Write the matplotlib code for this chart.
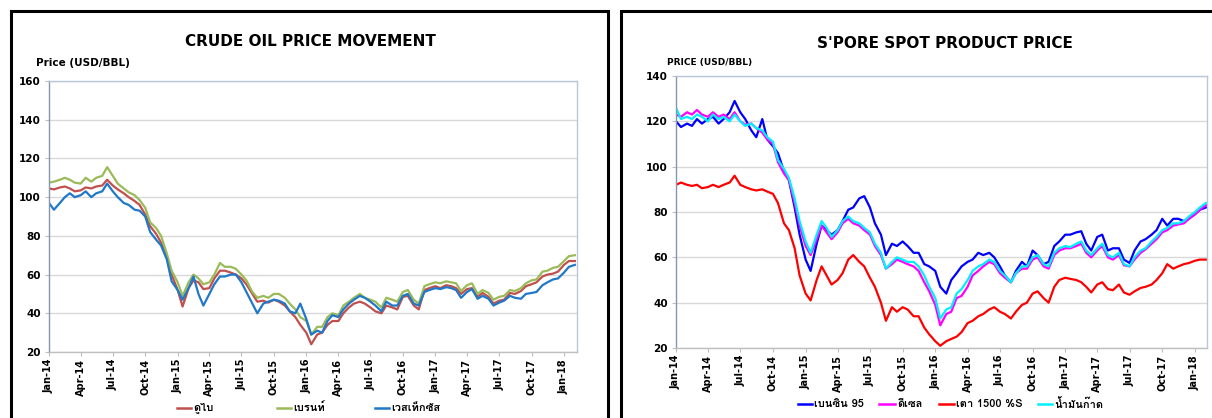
import matplotlib
matplotlib.use('Agg')
import matplotlib.pyplot as plt
import matplotlib.dates as mdates
from matplotlib.lines import Line2D
from matplotlib.patches import Rectangle
from matplotlib import font_manager
from matplotlib.ft2font import FT2Font
import pandas as pd

# semi-monthly sample dates, 1 Jan 2014 .. 1 Feb 2018
dates = pd.date_range('2014-01-01', '2018-02-01', freq='SMS')

# crude oil (USD/BBL)
dubai = [104.5, 104, 105, 105.5, 104.5, 103, 103.5, 105, 104.5, 105.5, 106, 109,
         106, 104, 102, 100, 98, 96, 91, 85, 81, 76.5, 70, 60,
         52, 43.5, 53, 57, 56, 52.5, 53, 58, 62, 62, 61, 60,
         58, 55, 50, 46, 46.5, 45.5, 47, 46, 44, 41, 38, 34,
         30, 24, 29, 30, 34, 36, 36, 40, 43, 45, 46, 45,
         43, 41, 40, 44, 43, 42, 48.5, 49, 44, 42, 52, 53,
         54, 53, 54.5, 54, 53, 50, 52.5, 53, 48.5, 50.5, 48.5, 45,
         46.5, 47, 50.5, 50, 51.5, 54, 55, 56, 59, 60, 60.5, 61.5,
         65, 67, 67]
brent = [107.5, 108, 109, 110, 109, 107.5, 107, 110, 108, 110, 111, 115.5,
         111, 107, 104.5, 102.5, 101, 98.5, 94.5, 87, 84, 80, 71, 62,
         56, 49, 56, 60, 58, 55, 56, 60, 66, 64, 64, 63,
         60, 57, 51, 48, 49, 48, 50, 50, 48, 45, 42, 38,
         36, 29, 33, 33, 38, 40, 39, 44, 46, 48, 50, 48,
         47, 46, 43, 48, 47, 46, 51, 52, 47, 45, 54, 55,
         56, 55.5, 56.5, 56, 55.5, 51.5, 54.5, 55.5, 50, 52, 50.5, 47,
         48.5, 49, 52, 51.5, 53, 55.5, 57, 57.5, 61.5, 62, 63.5, 64,
         67, 69.5, 70]
wti = [97, 93.5, 97, 100, 102, 100, 101, 103, 100, 102, 103, 107,
       103, 100, 97, 96, 93.5, 93, 90, 82, 78, 75, 68, 56.5,
       52, 47, 53, 59, 50, 44, 50, 55, 59, 59, 60, 60,
       56, 51, 45, 40, 45, 46, 47, 46.5, 45, 41, 40, 45,
       37, 29, 31, 30, 36, 39, 38, 42, 45, 47, 49, 48,
       46, 44, 41, 46, 44, 44, 49, 50, 45, 44, 51, 52,
       53, 52.5, 53.5, 53, 52, 48, 51, 52.5, 47.5, 49, 47.5, 44,
       45.5, 46.5, 49, 48, 47.5, 50, 50.5, 51, 54.5, 56, 57.5, 58,
       61, 64, 65]

# Singapore spot products (USD/BBL)
gasoline = [120, 117.5, 119, 118, 121, 119, 121, 122, 119, 121, 124, 129,
            124, 121, 116, 113, 121, 112, 109, 106, 98, 94, 82, 70,
            59, 54, 66, 74, 72, 70, 72, 76, 81, 82, 86, 87,
            82, 75, 70, 61, 66, 65, 67, 65, 62, 62, 57, 56,
            54, 47, 44, 50, 53, 56, 58, 59, 62, 61, 62, 60,
            56, 52, 49, 54, 58, 56, 63, 61, 57, 58, 65, 67,
            70, 70, 71, 71.5, 66, 63, 69, 70, 63, 64, 64, 59,
            57.5, 63, 67, 68, 70, 72, 77, 74, 77, 77, 76, 77,
            79, 81, 82]
diesel = [123, 122, 124, 123, 125, 123, 122, 124, 122, 123, 121, 124,
          120, 118.5, 119, 117, 115, 112, 110, 102, 97, 94, 84, 74,
          65, 61, 68, 74, 71, 68, 71, 75, 77, 75, 74, 72,
          70, 65, 61, 55, 57, 59, 58, 57, 56, 54, 49, 45,
          39, 30, 35, 36, 42, 43, 47, 52, 54, 56, 58, 57,
          53, 51, 49, 53, 55, 55, 59, 60, 56, 55, 61, 63,
          64, 64, 65, 66, 62, 60, 63, 65, 60, 59, 61, 56.5,
          56, 59, 62, 63.5, 66, 68, 71, 72, 74, 74.5, 75, 77,
          79, 81, 83]
fueloil = [92, 93, 92, 91.5, 92, 90.5, 91, 92, 91, 92, 93, 96,
           92, 91, 90, 89.5, 90, 89, 88, 84, 75, 72, 64, 52,
           44, 41, 50, 56, 52, 48, 50, 53, 59, 61, 58, 56,
           51, 47, 40, 32, 38, 36, 38, 37, 34, 34, 29, 26,
           23, 21, 23, 24, 25, 27, 31, 32, 34, 35, 37, 38,
           36, 35, 33, 36, 39, 40, 44, 45, 42, 40, 47, 50,
           51, 50.5, 50, 49, 47, 44.5, 48, 49, 46, 45.5, 48, 44.5,
           43.5, 45, 46.5, 47, 48, 50, 53, 57, 55, 56, 57, 57.5,
           58.5, 59, 59]
kerosene = [126, 121, 122, 121, 123, 122, 120, 123, 121, 122, 120, 123,
            120, 118, 119, 117, 116, 113, 111, 103, 99, 95, 86, 76,
            67, 62, 70, 76, 73, 69, 72, 76, 78, 76, 75, 73,
            71, 66, 62, 55, 58, 60, 59, 58, 58, 56, 52, 47,
            42, 33, 37, 38, 44, 46, 50, 54, 56, 57, 59, 58,
            54, 52, 49, 53, 56, 56, 60, 61, 57, 56, 62, 64,
            65, 64.5, 66, 67, 63, 61, 64, 66, 61, 60, 62, 57,
            56, 60, 63, 64, 67, 69, 72, 73, 75, 75, 76, 78,
            80, 82, 84]

crude_names = ['ดูไบ', 'เบรนท์', 'เวสเท็กซัส']
crude_colors = ['#c0504d', '#9bbb59', '#1f78c8']
prod_names = ['เบนซิน 95', 'ดีเซล', 'เตา 1500 %S', 'น้ำมันก๊าด']
prod_colors = ['#0000ff', '#ff00ff', '#ff0000', '#00f0ff']


def thai_font():
    for f in font_manager.fontManager.ttflist:
        try:
            if ord('ด') in FT2Font(f.fname).get_charmap():
                return f.name
        except Exception:
            pass
    return 'DejaVu Sans'


thai = thai_font()
plt.rcParams['font.family'] = ['DejaVu Sans']
W, H = 1212, 418
fig = plt.figure(figsize=(W / 100, H / 100), dpi=100)

# panel frames
fig.add_artist(Rectangle((10.5 / W, -0.05), 597 / W, 1 - 10.5 / H + 0.05,
                         transform=fig.transFigure, fill=False, lw=2.2, ec='black'))
fig.add_artist(Rectangle((621 / W, -0.05), 600 / W, 1 - 10.5 / H + 0.05,
                         transform=fig.transFigure, fill=False, lw=2.2, ec='black'))


def setup(ax, ymax, xmax):
    ax.set_xlim(pd.Timestamp('2014-01-01'), pd.Timestamp(xmax))
    ax.set_ylim(20, ymax)
    ax.set_yticks(range(20, ymax + 1, 20))
    ax.xaxis.set_major_locator(mdates.MonthLocator(bymonth=[1, 4, 7, 10]))
    ax.xaxis.set_major_formatter(mdates.DateFormatter('%b-%y'))
    ax.grid(axis='y', color='#d9d9d9', lw=1)
    ax.set_axisbelow(True)
    for s in ax.spines.values():
        s.set_color('#b8c7d9')
        s.set_linewidth(1)
    ax.spines['left'].set_color('#8497b0')
    ax.spines['bottom'].set_color('#bfbfbf')
    ax.tick_params(axis='x', labelrotation=90, labelsize=7, length=3, color='#bfbfbf', pad=2)
    ax.tick_params(axis='y', labelsize=7.5, length=3, color='#bfbfbf', pad=3)
    for lab in ax.get_xticklabels() + ax.get_yticklabels():
        lab.set_fontweight('bold')


def legend(names, colors, xs, y):
    for (x0, x1, xt), name, c in zip(xs, names, colors):
        fig.add_artist(Line2D([x0 / W, x1 / W], [1 - y / H] * 2, color=c, lw=1.8,
                              transform=fig.transFigure))
        fig.text(xt / W, 1 - y / H, name, fontsize=8, fontweight='bold', ha='left', va='center',
                 family=[thai, 'DejaVu Sans'])


# left chart: crude oil
ax1 = fig.add_axes([49 / W, 1 - 352 / H, 528 / W, 271 / H])
for vals, name, c in zip([dubai, brent, wti], crude_names, crude_colors):
    ax1.plot(dates, vals, color=c, lw=1.6, label=name)
setup(ax1, 160, '2018-02-07')
fig.text(310 / W, 1 - 41 / H, 'CRUDE OIL PRICE MOVEMENT', fontsize=11, fontweight='bold',
         ha='center', va='center')
fig.text(36 / W, 1 - 63 / H, 'Price (USD/BBL)', fontsize=7.5, fontweight='bold',
         ha='left', va='center')
legend(crude_names, crude_colors, [(177, 191, 193), (277, 291, 293), (375, 389, 391)], 408)

# right chart: Singapore products
ax2 = fig.add_axes([676 / W, 1 - 348 / H, 531 / W, 272 / H])
for vals, name, c in zip([gasoline, diesel, fueloil, kerosene], prod_names, prod_colors):
    ax2.plot(dates, vals, color=c, lw=1.6, label=name)
setup(ax2, 140, '2018-02-04')
fig.text(945 / W, 1 - 43 / H, "S'PORE SPOT PRODUCT PRICE", fontsize=11, fontweight='bold',
         ha='center', va='center')
fig.text(667 / W, 1 - 63 / H, 'PRICE (USD/BBL)', fontsize=6.5, fontweight='bold',
         ha='left', va='center')
legend(prod_names, prod_colors,
       [(798, 812, 814), (879, 895, 897), (939, 954, 956), (1038, 1052, 1054)], 404)

fig.savefig('out.png', dpi=100)
